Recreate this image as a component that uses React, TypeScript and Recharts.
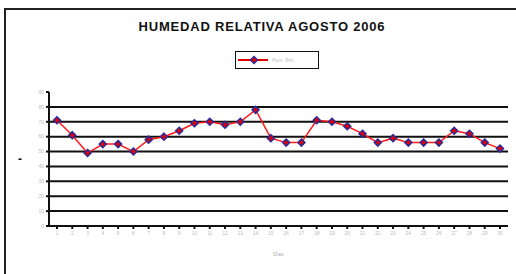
import React from 'react';
import {
  LineChart,
  Line,
  XAxis,
  YAxis,
  CartesianGrid,
} from 'recharts';

const days: string[] = [
  '1', '2', '3', '4', '5', '6', '7', '8', '9', '10',
  '11', '12', '13', '14', '15', '16', '17', '18', '19', '20',
  '21', '22', '23', '24', '25', '26', '27', '28', '29', '30',
];

const humidity: number[] = [
  71, 61, 49, 55, 55, 50, 58, 60, 64, 69,
  70, 68, 70, 78, 59, 56, 56, 71, 70, 67,
  62, 56, 59, 56, 56, 56, 64, 62, 56, 52,
];

const yTicks: number[] = [0, 10, 20, 30, 40, 50, 60, 70, 80, 90];
const gridValues: number[] = [10, 20, 30, 40, 50, 60, 70, 80];

const seriesName = 'Hum. Rel.';

const data = days.map((d, i) => ({ day: d, hr: humidity[i] }));

// diamond marker, red fill with navy edge
const Diamond = (props: any) => {
  const { cx, cy } = props;
  if (cx == null || cy == null) return null;
  const r = 3.5;
  return (
    <path
      d={`M${cx},${cy - r}L${cx + r},${cy}L${cx},${cy + r}L${cx - r},${cy}Z`}
      fill="#e00000"
      stroke="#2a2a9a"
      strokeWidth={1.5}
    />
  );
};

const LegendBox = () => (
  <div
    style={{
      position: 'absolute',
      left: 235,
      top: 51,
      width: 84,
      height: 18,
      border: '1.5px solid #111',
      display: 'flex',
      alignItems: 'center',
      boxSizing: 'border-box',
      paddingLeft: 2,
    }}
  >
    <svg width={30} height={10}>
      <line x1={0} y1={5} x2={30} y2={5} stroke="#e00000" strokeWidth={2} />
      <Diamond cx={16} cy={5} />
    </svg>
    <span style={{ fontSize: 5, color: '#bbb', marginLeft: 4 }}>
      {seriesName}
    </span>
  </div>
);

const App: React.FC = () => {
  return (
    <div
      style={{
        position: 'absolute',
        left: 0,
        top: 0,
        width: 516,
        height: 274,
        overflow: 'hidden',
        background: '#fff',
        fontFamily: 'Liberation Sans, Arial, sans-serif',
      }}
    >
      <div
        style={{
          position: 'absolute',
          left: 4,
          top: 8,
          width: 530,
          height: 290,
          border: '2px solid #222',
        }}
      />
      <div
        style={{
          position: 'absolute',
          left: 0,
          top: 19,
          width: 524,
          textAlign: 'center',
          fontSize: 13,
          fontWeight: 'bold',
          letterSpacing: 0.8,
          color: '#111',
        }}
      >
        HUMEDAD RELATIVA AGOSTO 2006
      </div>
      <LegendBox />
      <div style={{ position: 'absolute', left: 0, top: 0 }}>
        <LineChart
          width={516}
          height={274}
          data={data}
          margin={{ top: 92, right: 8, bottom: 18, left: 0 }}
        >
          <CartesianGrid
            vertical={false}
            horizontalValues={gridValues}
            stroke="#111"
            strokeWidth={2}
          />
          <XAxis
            dataKey="day"
            interval={0}
            height={30}
            padding={{ left: 8, right: 8 }}
            stroke="#111"
            strokeWidth={2}
            tickSize={3}
            tick={{ fontSize: 5, fill: '#bbb' }}
            label={{ value: 'Días', position: 'insideBottom', offset: 0, fontSize: 5, fill: '#aaa' }}
          />
          <YAxis
            domain={[0, 90]}
            ticks={yTicks}
            interval={0}
            width={49}
            stroke="#111"
            strokeWidth={2}
            tickSize={3}
            tick={{ fontSize: 5, fill: '#bbb' }}
            label={{ value: '-', position: 'insideLeft', offset: 18, fontSize: 12, fontWeight: 'bold', fill: '#111' }}
          />
          <Line
            type="linear"
            dataKey="hr"
            name={seriesName}
            stroke="#ff1a1a"
            strokeWidth={1.5}
            dot={<Diamond />}
            activeDot={false}
            isAnimationActive={false}
          />
        </LineChart>
      </div>
    </div>
  );
};

export default App;
